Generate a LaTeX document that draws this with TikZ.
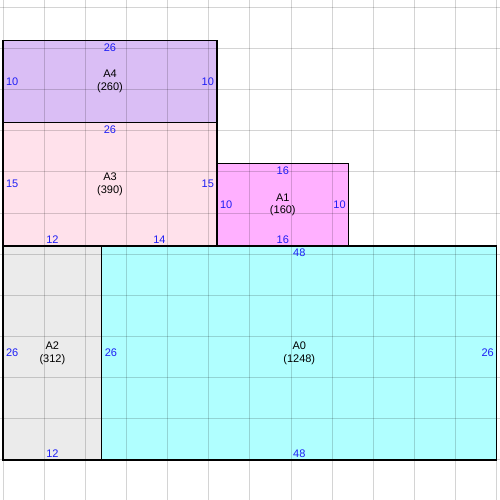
\documentclass[tikz,border=0pt]{standalone}
\usepackage{fontspec}
\setmainfont{Liberation Sans}
\usetikzlibrary{calc,positioning}

\definecolor{fillAzero}{RGB}{176,255,255}
\definecolor{fillAone}{RGB}{255,176,255}
\definecolor{fillAtwo}{RGB}{235,235,235}
\definecolor{fillAthree}{RGB}{255,225,235}
\definecolor{fillAfour}{RGB}{218,190,245}
\definecolor{sideblue}{RGB}{30,30,245}

\begin{document}
\begin{tikzpicture}[x=2.5mm,y=2.5mm,
  every node/.style={font=\fontsize{9.5}{11}\selectfont},
  gridline/.style={black,opacity=0.17,line width=0.8pt},
  piece/.style={black,line width=1.1pt},
  side/.style={text=sideblue,inner sep=1pt},
  area/.style={align=center,inner sep=0pt}
]

\useasboundingbox (-0.365,-4.86) rectangle (60.39,55.89);

% pieces
\fill[fillAzero]  (12,0) rectangle (60,26);
\fill[fillAtwo]   (0,0) rectangle (12,26);
\fill[fillAthree] (0,26) rectangle (26,41);
\fill[fillAfour]  (0,41) rectangle (26,51);
\fill[fillAone]   (26,26) rectangle (42,36);

% grid
\foreach \gx in {0,5,...,60}
  \draw[gridline] (\gx,-4.86) -- (\gx,55.89);
\foreach \gy in {0,5,...,55}
  \draw[gridline] (-0.365,\gy) -- (60.39,\gy);

\draw[piece] (12,0) rectangle (60,26);
\draw[piece] (0,0) rectangle (12,26);
\draw[piece] (0,26) rectangle (26,41);
\draw[piece] (0,41) rectangle (26,51);
\draw[piece] (26,26) rectangle (42,36);

% A4
\node[area] (a4) at (13,46) {A4\\(260)};
\node[side] (a4t) at (13,50.15) {26};
\node[side,anchor=west] (a4l) at (0.2,46) {10};
\node[side,anchor=east] (a4r) at (25.8,46) {10};

% A3
\node[area] (a3) at (13,33.5) {A3\\(390)};
\node[side] (a3t) at (13,40.15) {26};
\node[side,anchor=west] (a3l) at (0.2,33.5) {15};
\node[side,anchor=east] (a3r) at (25.8,33.5) {15};
\node[side] (a3b) at (6,26.75) {12};
\node[side] (a3c) at (19,26.75) {14};

% A1
\node[area] (a1) at (34,31) {A1\\(160)};
\node[side] (a1t) at (34,35.15) {16};
\node[side] (a1b) at (34,26.75) {16};
\node[side,anchor=west] (a1l) at (26.2,31) {10};
\node[side,anchor=east] (a1r) at (41.8,31) {10};

% A2
\node[area] (a2) at (6,13) {A2\\(312)};
\node[side,anchor=west] (a2l) at (0.2,13) {26};
\node[side] (a2b) at (6,0.75) {12};

% A0
\node[area] (a0) at (36,13) {A0\\(1248)};
\node[side] (a0t) at (36,25.15) {48};
\node[side] (a0b) at (36,0.75) {48};
\node[side,anchor=west] (a0l) at (12.2,13) {26};
\node[side,anchor=east] (a0r) at (59.8,13) {26};
\end{tikzpicture}
\end{document}
